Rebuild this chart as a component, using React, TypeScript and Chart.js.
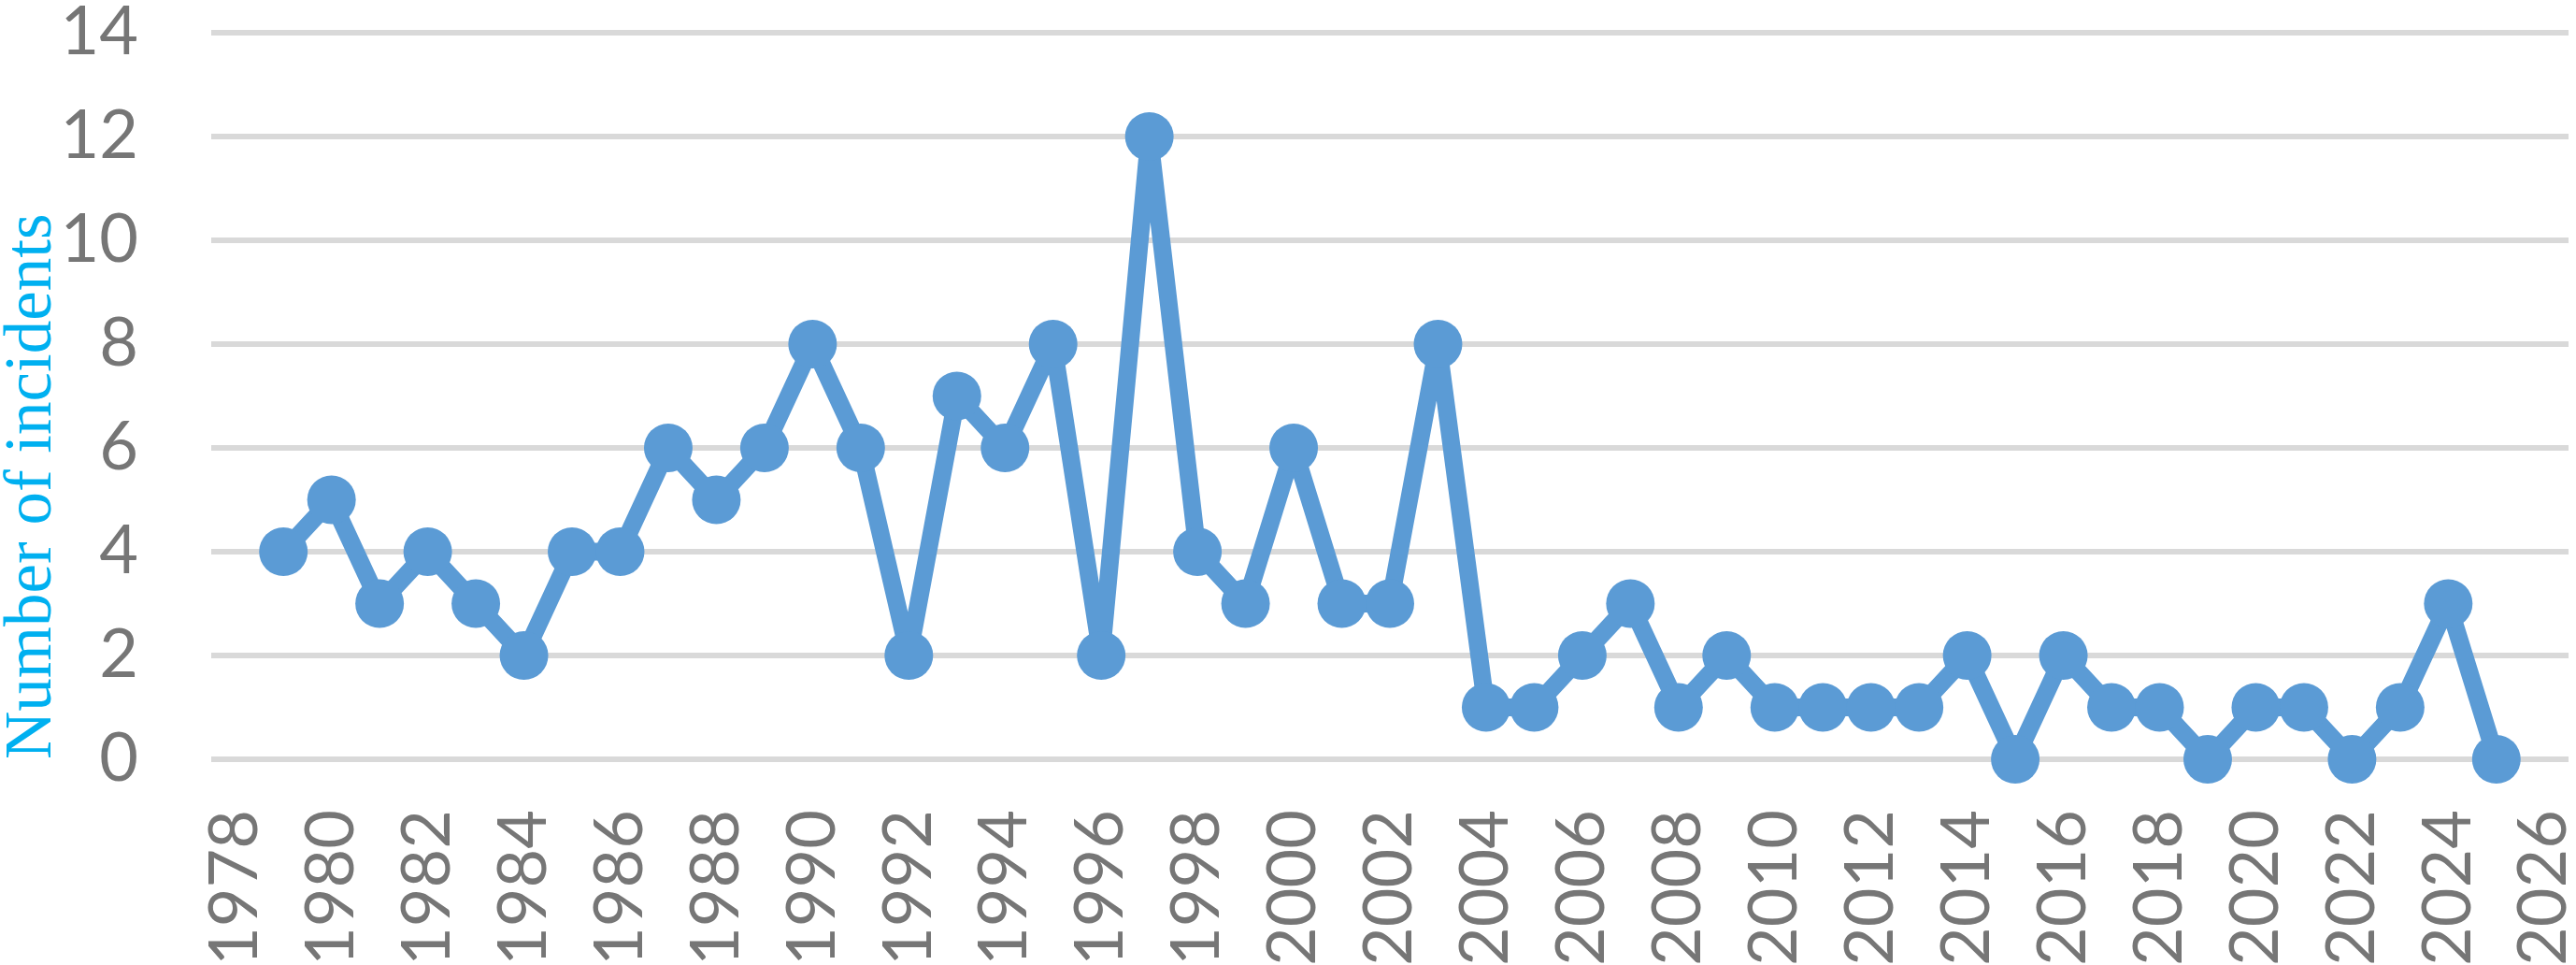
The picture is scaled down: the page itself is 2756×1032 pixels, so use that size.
import React, { useEffect, useRef } from "react";
import { Chart, registerables } from "chart.js";

Chart.register(...registerables);

const years = [
  1979, 1980, 1981, 1982, 1983, 1984, 1985, 1986, 1987, 1988,
  1989, 1990, 1991, 1992, 1993, 1994, 1995, 1996, 1997, 1998,
  1999, 2000, 2001, 2002, 2003, 2004, 2005, 2006, 2007, 2008,
  2009, 2010, 2011, 2012, 2013, 2014, 2015, 2016, 2017, 2018,
  2019, 2020, 2021, 2022, 2023, 2024, 2025,
];
const incidents = [
  4, 5, 3, 4, 3, 2, 4, 4, 6, 5,
  6, 8, 6, 2, 7, 6, 8, 2, 12, 4,
  3, 6, 3, 3, 8, 1, 1, 2, 3, 1,
  2, 1, 1, 1, 1, 2, 0, 2, 1, 1,
  0, 1, 1, 0, 1, 3, 0,
];
const xTickYears = [
  1978, 1980, 1982, 1984, 1986, 1988, 1990, 1992, 1994, 1996, 1998, 2000, 2002,
  2004, 2006, 2008, 2010, 2012, 2014, 2016, 2018, 2020, 2022, 2024, 2026,
];
const yTitle = "Number of incidents";

export default function App() {
  const ref = useRef<HTMLCanvasElement>(null);
  useEffect(() => {
    document.body.style.margin = "0";
    const canvas = ref.current!;
    const chart = new Chart(canvas, {
      type: "line",
      data: {
        datasets: [
          {
            data: years.map((y, i) => ({ x: y, y: incidents[i] })),
            borderColor: "#5B9BD5",
            backgroundColor: "#5B9BD5",
            borderWidth: 19,
            borderJoinStyle: "round",
            borderCapStyle: "round",
            pointRadius: 26,
            pointHoverRadius: 26,
            pointBorderWidth: 0,
            pointBackgroundColor: "#5B9BD5",
            tension: 0,
            clip: false as any,
          },
        ],
      },
      options: {
        animation: false,
        responsive: false,
        events: [],
        layout: { autoPadding: false, padding: { top: 35, right: 8, bottom: 0, left: 0 } },
        plugins: { legend: { display: false }, tooltip: { enabled: false } },
        scales: {
          x: {
            type: "linear",
            min: 1977.5,
            max: 2026.5,
            afterBuildTicks: (scale: any) => {
              scale.ticks = xTickYears.map((v) => ({ value: v }));
            },
            afterFit: (scale: any) => {
              scale.height = 220;
              scale.paddingLeft = 0;
              scale.paddingRight = 0;
              scale.paddingTop = 0;
              scale.paddingBottom = 0;
            },
            grid: { display: false, drawTicks: false },
            border: { display: false },
            ticks: {
              autoSkip: false,
              minRotation: 90,
              maxRotation: 90,
              padding: 54,
              color: "#767676",
              font: { family: "Lato", size: 72 },
              callback: (v: any) => String(v),
            },
          },
          y: {
            min: 0,
            max: 14,
            afterFit: (scale: any) => {
              scale.width = 226;
              scale.paddingLeft = 0;
              scale.paddingRight = 0;
              scale.paddingTop = 0;
              scale.paddingBottom = 0;
            },
            grid: { color: "#D9D9D9", lineWidth: 6, drawTicks: false },
            border: { display: false },
            ticks: {
              stepSize: 2,
              padding: 78,
              color: "#767676",
              font: { family: "Lato", size: 72, lineHeight: 1 },
            },
            title: {
              display: true,
              text: yTitle,
              align: "start",
              color: "#00B0F0",
              font: { family: "Liberation Serif", size: 71, lineHeight: 1 },
              padding: { top: 0, bottom: 0 },
            },
          },
        },
      },
    });
    return () => chart.destroy();
  }, []);
  return (
    <div style={{ width: 2756, height: 1032 }}>
      <canvas ref={ref} width={2756} height={1032} style={{ display: "block" }} />
    </div>
  );
}
